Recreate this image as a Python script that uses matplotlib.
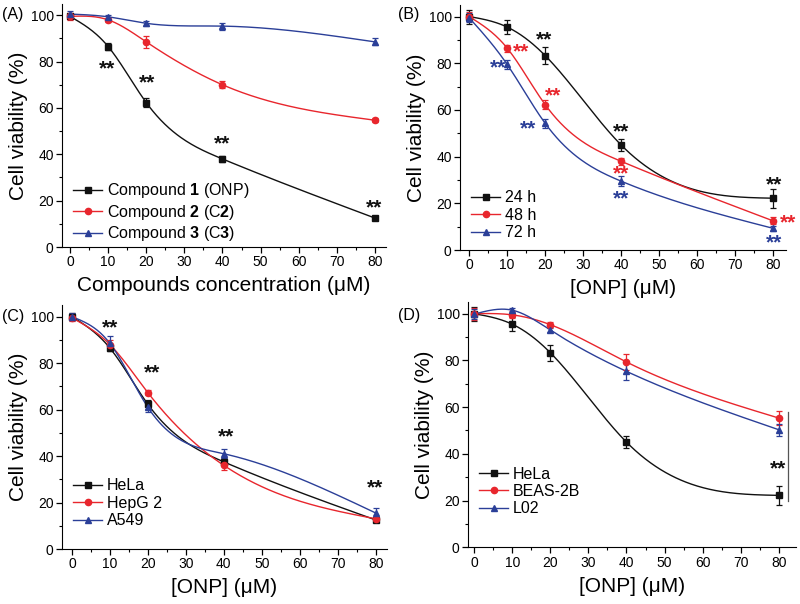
import numpy as np
import matplotlib
matplotlib.use('Agg')
import matplotlib.pyplot as plt
from matplotlib.ticker import MultipleLocator

plt.rcParams['font.family'] = ['Liberation Sans', 'DejaVu Sans']
plt.rcParams['mathtext.fontset'] = 'custom'
plt.rcParams['mathtext.rm'] = 'Liberation Sans'
plt.rcParams['mathtext.bf'] = 'Liberation Sans:bold'

BLACK = '#111111'
RED = '#e8262d'
BLUE = '#2b3f98'

conc = [0, 10, 20, 40, 80]

# (A) compounds, 48 h
a_onp = [99.5, 86.5, 62.3, 38.0, 12.5]
a_onp_err = [1.2, 1.5, 1.8, 1.2, 1.0]
a_c2 = [99.5, 98.0, 88.5, 70.0, 54.7]
a_c2_err = [1.5, 1.0, 2.5, 1.5, 0.8]
a_c3 = [100.5, 99.3, 96.5, 95.3, 88.5]
a_c3_err = [1.2, 1.0, 1.2, 1.5, 1.5]
a_labels = ['Compound $\\mathbf{1}$ (ONP)', 'Compound $\\mathbf{2}$ (C$\\mathbf{2}$)',
            'Compound $\\mathbf{3}$ (C$\\mathbf{3}$)']
a_stars = [(9.8, 76.7), (20.3, 70.7), (40, 44.7), (79.8, 16.7)]

# (B) time course
b_24 = [100.0, 95.5, 83.3, 45.0, 22.2]
b_24_err = [3.0, 3.0, 3.5, 2.5, 4.0]
b_48 = [100.0, 86.5, 62.3, 38.0, 12.5]
b_48_err = [2.0, 1.5, 2.0, 1.5, 1.5]
b_72 = [99.5, 79.5, 54.3, 29.5, 9.3]
b_72_err = [2.0, 2.0, 2.0, 2.0, 1.0]
b_labels = ['24 h', '48 h', '72 h']
b_stars_24 = [(19.8, 90.2), (40, 50.7), (80.3, 27.7)]
b_stars_48 = [(13.6, 84.7), (22, 66.1), (40, 32.7), (83.8, 11.7)]
b_stars_72 = [(7.6, 78), (15.4, 51.7), (40, 21.7), (80.3, 3)]

# (C) cancer cell lines
c_hela = [100.0, 86.5, 62.3, 37.5, 12.5]
c_hela_err = [1.5, 1.5, 2.0, 1.5, 1.0]
c_hepg2 = [99.5, 88.0, 67.3, 36.0, 13.0]
c_hepg2_err = [1.5, 2.0, 1.0, 2.0, 1.0]
c_a549 = [100.0, 88.5, 61.0, 41.0, 15.5]
c_a549_err = [1.5, 3.0, 2.0, 2.0, 2.0]
c_labels = ['HeLa', 'HepG 2', 'A549']
c_stars = [(10, 95), (21, 75.9), (40.5, 48.4), (79.8, 26.2)]

# (D) normal cell lines
d_hela = [100.0, 95.5, 83.3, 45.0, 22.2]
d_hela_err = [3.0, 3.0, 3.5, 2.5, 4.0]
d_beas = [100.0, 99.5, 95.3, 79.3, 55.3]
d_beas_err = [2.5, 1.5, 1.0, 3.5, 3.0]
d_l02 = [99.8, 101.5, 93.0, 75.3, 50.3]
d_l02_err = [2.0, 1.0, 1.0, 3.5, 2.5]
d_labels = ['HeLa', 'BEAS-2B', 'L02']
d_stars = [(79.8, 33.7)]


def spline(x, y, n=300):
    """Natural cubic spline through the points, for the smooth line."""
    x = np.asarray(x, float)
    y = np.asarray(y, float)
    h = np.diff(x)
    m = len(x)
    A = np.zeros((m, m))
    r = np.zeros(m)
    A[0, 0] = A[-1, -1] = 1
    for i in range(1, m - 1):
        A[i, i-1] = h[i-1]
        A[i, i] = 2*(h[i-1] + h[i])
        A[i, i+1] = h[i]
        r[i] = 6*((y[i+1] - y[i])/h[i] - (y[i] - y[i-1])/h[i-1])
    M = np.linalg.solve(A, r)
    xs = np.linspace(x[0], x[-1], n)
    k = np.clip(np.searchsorted(x, xs) - 1, 0, m - 2)
    hk = h[k]
    t1 = x[k+1] - xs
    t0 = xs - x[k]
    ys = (M[k]*t1**3 + M[k+1]*t0**3)/(6*hk) \
        + (y[k]/hk - M[k]*hk/6)*t1 + (y[k+1]/hk - M[k+1]*hk/6)*t0
    return xs, ys


def series(ax, y, err, color, marker, label):
    xs, ys = spline(conc, y)
    ax.plot(xs, ys, '-', color=color, lw=1.0)
    ax.errorbar(conc, y, yerr=err, fmt=marker, color=color, ms=4.5,
                elinewidth=0.9, capsize=2.5, capthick=0.9, zorder=3)
    # legend proxy: line with marker
    ax.plot([], [], '-', marker=marker, color=color, ms=4.5, lw=1.0, label=label)


def style(ax, xlim, xlabel):
    ax.set_xlim(*xlim)
    ax.set_ylim(0, 105)
    ax.spines['top'].set_visible(False)
    ax.spines['right'].set_visible(False)
    ax.xaxis.set_major_locator(MultipleLocator(10))
    ax.xaxis.set_minor_locator(MultipleLocator(5))
    ax.yaxis.set_major_locator(MultipleLocator(20))
    ax.yaxis.set_minor_locator(MultipleLocator(10))
    ax.tick_params(which='major', direction='out', length=4, width=0.9, labelsize=10, pad=2)
    ax.tick_params(which='minor', direction='out', length=2.5, width=0.8)
    ax.set_xlabel(xlabel, fontsize=15, labelpad=5)
    ax.set_ylabel('Cell viability (%)', fontsize=15, labelpad=2)


def stars(ax, pos, color):
    for x, y in pos:
        ax.text(x, y, '**', color=color, fontsize=15, fontweight='bold',
                ha='center', va='center')


def legend(ax, y0):
    ax.legend(loc='lower left', bbox_to_anchor=(0.0, y0), frameon=False,
              fontsize=11.5, handlelength=1.8, handletextpad=0.3, labelspacing=0.15,
              borderaxespad=0.3)


fig = plt.figure(figsize=(8, 6.04), dpi=100)
axA = fig.add_axes([0.0775, 0.591, 0.405, 0.403])
axB = fig.add_axes([0.575, 0.586, 0.408, 0.406])
axC = fig.add_axes([0.0775, 0.091, 0.406, 0.404])
axD = fig.add_axes([0.585, 0.094, 0.41, 0.406])

# A
series(axA, a_onp, a_onp_err, BLACK, 's', a_labels[0])
series(axA, a_c2, a_c2_err, RED, 'o', a_labels[1])
series(axA, a_c3, a_c3_err, BLUE, '^', a_labels[2])
stars(axA, a_stars, BLACK)
style(axA, (-2.1, 82.9), 'Compounds concentration (μM)')
legend(axA, -0.03)

# B
series(axB, b_24, b_24_err, BLACK, 's', b_labels[0])
series(axB, b_48, b_48_err, RED, 'o', b_labels[1])
series(axB, b_72, b_72_err, BLUE, '^', b_labels[2])
stars(axB, b_stars_24, BLACK)
stars(axB, b_stars_48, RED)
stars(axB, b_stars_72, BLUE)
style(axB, (-2.4, 83.5), '[ONP] (μM)')
legend(axB, -0.005)

# C
series(axC, c_hela, c_hela_err, BLACK, 's', c_labels[0])
series(axC, c_hepg2, c_hepg2_err, RED, 'o', c_labels[1])
series(axC, c_a549, c_a549_err, BLUE, '^', c_labels[2])
stars(axC, c_stars, BLACK)
style(axC, (-2.6, 82.9), '[ONP] (μM)')
legend(axC, 0.04)

# D
series(axD, d_hela, d_hela_err, BLACK, 's', d_labels[0])
series(axD, d_beas, d_beas_err, RED, 'o', d_labels[1])
series(axD, d_l02, d_l02_err, BLUE, '^', d_labels[2])
axD.plot([82.5, 82.5], [20, 58], color='#555555', lw=0.9)
stars(axD, d_stars, BLACK)
style(axD, (-1.6, 84.5), '[ONP] (μM)')
legend(axD, 0.08)

for lab, x, y in [('(A)', 0.003, 1 - 15/604), ('(B)', 0.497, 1 - 15/604),
                  ('(C)', 0.003, 1 - 317/604), ('(D)', 0.497, 1 - 315/604)]:
    fig.text(x, y, lab, fontsize=11.5, va='center', ha='left')

fig.savefig('out.png', dpi=100)
